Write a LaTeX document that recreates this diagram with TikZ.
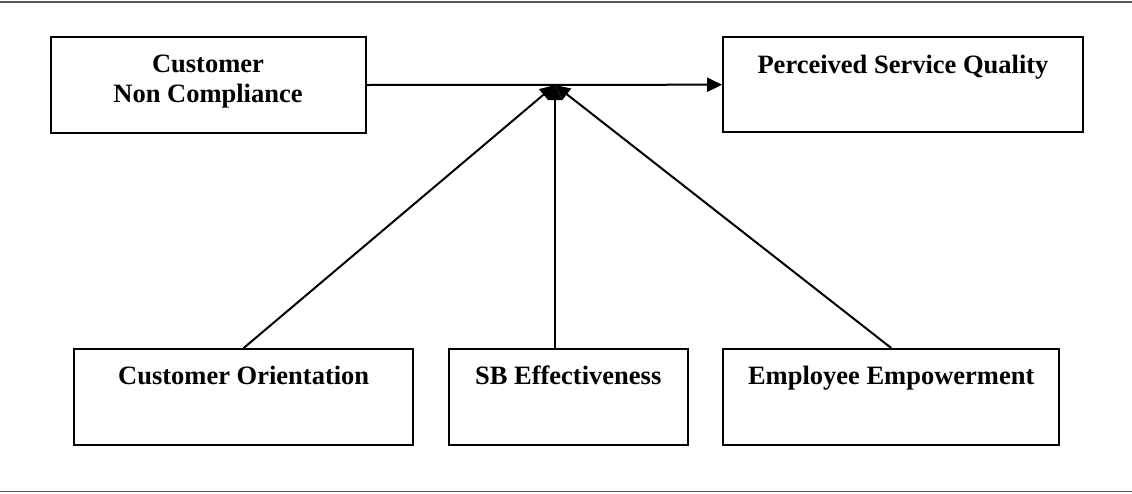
\documentclass[tikz,border=0pt]{standalone}
\usepackage{fontspec}
\setmainfont{Liberation Serif}
\usetikzlibrary{arrows.meta}
\tikzset{
  box/.style={draw=black, line width=2pt, rectangle, inner sep=0pt, minimum height=96pt},
  lbl/.style={font=\fontsize{26.5}{30.5}\selectfont\bfseries, inner sep=0pt, align=center},
  conn/.style={draw=black, line width=2pt, -{Triangle[length=15pt,width=14pt]}},
  rule/.style={draw=black!65, line width=1.5pt}
}
\begin{document}
\begin{tikzpicture}
\useasboundingbox (0pt,0pt) rectangle (1132pt,-493pt);
% horizontal rules
\coordinate (tl) at (0pt,-2pt);
\coordinate (tr) at (1132pt,-2pt);
\coordinate (bl) at (0pt,-491.5pt);
\coordinate (br) at (1132pt,-491.5pt);
\draw[rule] (tl) -- (tr);
\draw[rule] (bl) -- (br);
% boxes
\node[box, minimum width=315pt] (cnc) at (208pt,-85pt) {};
\node[box, minimum width=359.7pt, minimum height=95.3pt] (psq) at (903pt,-84.7pt) {};
\node[box, minimum width=338.7pt] (co) at (243.7pt,-397pt) {};
\node[box, minimum width=239pt] (sb) at (568.2pt,-397pt) {};
\node[box, minimum width=336.5pt] (ee) at (891.2pt,-397pt) {};
% texts
\node[lbl, anchor=base] (cnct) at (208pt,-102.5pt) {Customer\\Non Compliance};
\node[lbl, anchor=base] (psqt) at (903pt,-73.5pt) {Perceived Service Quality};
\node[lbl, anchor=base] (cot) at (243.7pt,-384pt) {Customer Orientation};
\node[lbl, anchor=base] (sbt) at (568.2pt,-384pt) {SB Effectiveness};
\node[lbl, anchor=base] (eet) at (891.2pt,-384pt) {Employee Empowerment};
% connectors
\coordinate (m) at (555pt,-85pt);
\draw[conn] (cnc.east) -- (psq.west);
\draw[conn] (co.north) -- (m);
\draw[conn] (sb.north -| m) -- (m);
\draw[conn] (ee.north) -- (m);
\end{tikzpicture}
\end{document}
